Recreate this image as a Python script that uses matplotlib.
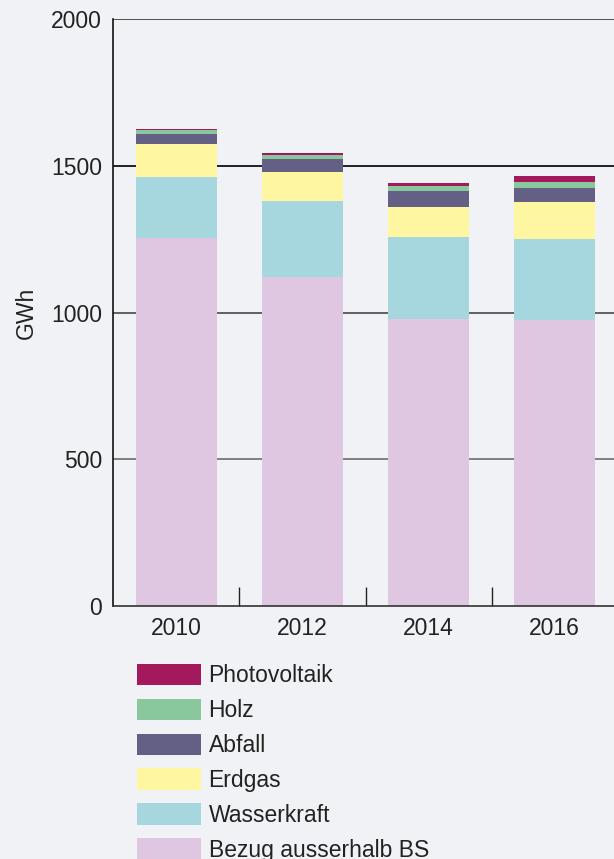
import matplotlib.pyplot as plt
import numpy as np

plt.rcParams['font.family'] = ['Liberation Sans', 'DejaVu Sans']

years = ['2010', '2012', '2014', '2016']
bezug = [1255, 1121, 978, 974]
wasserkraft = [207, 259, 279, 276]
erdgas = [112, 99, 102, 126]
abfall = [34, 44, 55, 48]
holz = [14, 14, 17, 21]
photovoltaik = [3, 6, 10, 20]

series = [
    ('Bezug ausserhalb BS', bezug, '#dfc7e2'),
    ('Wasserkraft', wasserkraft, '#a6d7de'),
    ('Erdgas', erdgas, '#fef6a0'),
    ('Abfall', abfall, '#646085'),
    ('Holz', holz, '#88c89c'),
    ('Photovoltaik', photovoltaik, '#a3195b'),
]

bg = '#f1f2f6'
fig = plt.figure(figsize=(6.14, 8.59), dpi=100, facecolor=bg)
ax = fig.add_axes([0.184, 0.2945, 0.816, 0.6834], facecolor=bg)

x = np.arange(len(years))
# gridlines, each a little different like the original
for v, c in [(500, '#777777'), (1000, '#555555'), (1500, '#111111'), (2000, '#444444')]:
    ax.axhline(v, color=c, lw=1.3, zorder=0)

bottom = np.zeros(len(years))
handles = []
for name, vals, col in series:
    b = ax.bar(x, vals, width=0.643, bottom=bottom, color=col, zorder=2)
    bottom += np.array(vals)
    handles.append((b, name))

ax.set_xlim(-0.504, 3.472)
ax.set_ylim(0, 2000)
ax.set_yticks([0, 500, 1000, 1500, 2000])
ax.tick_params(axis='y', length=0, labelsize=16.5, colors='#222222', pad=8)
ax.set_xticks(x)
ax.set_xticklabels(years)
ax.set_xticks([0.5, 1.5, 2.5], minor=True)
ax.tick_params(axis='x', which='major', length=0, labelsize=16.5, colors='#222222', pad=8)
ax.tick_params(axis='x', which='minor', direction='in', length=14, width=1, color='#222222')
ax.set_ylabel('GWh', fontsize=16.5, color='#222222', labelpad=9)

for s in ['top', 'right']:
    ax.spines[s].set_visible(False)
ax.spines['left'].set_color('#111111')
ax.spines['bottom'].set_color('#333333')
ax.spines['left'].set_linewidth(1.2)
ax.spines['bottom'].set_linewidth(1.2)

leg = fig.legend([h for h, _ in handles[::-1]], [n for _, n in handles[::-1]],
                 loc='upper left', bbox_to_anchor=(0.208, 0.238), frameon=False,
                 fontsize=16.5, handlelength=2.8, handleheight=1.05,
                 labelspacing=0.5, handletextpad=0.33, borderaxespad=0)
for t in leg.get_texts():
    t.set_color('#222222')

fig.savefig('out.png', dpi=100, facecolor=bg)
